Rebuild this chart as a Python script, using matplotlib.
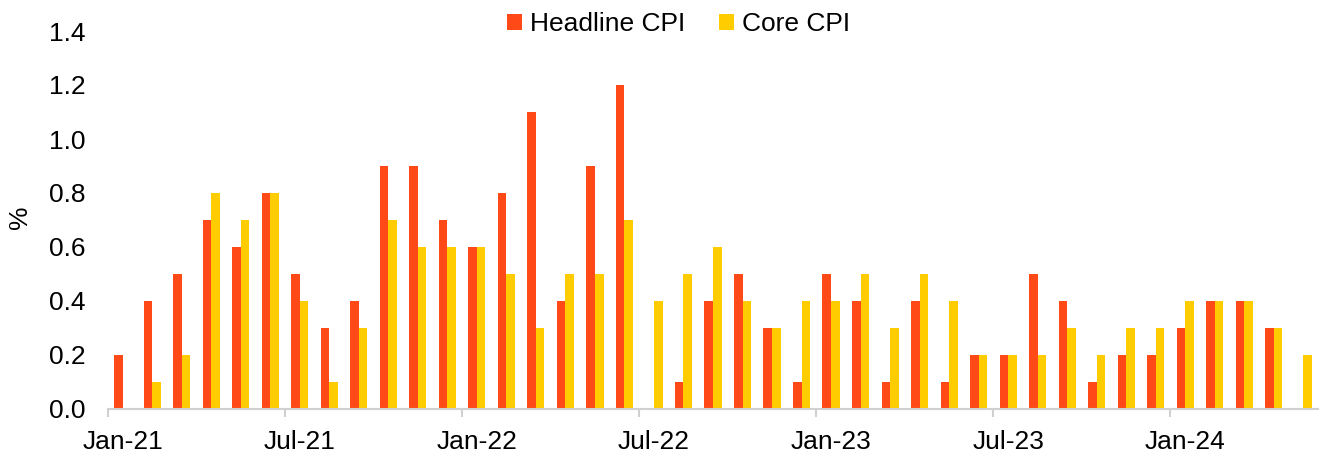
import matplotlib
matplotlib.use("Agg")
import matplotlib.pyplot as plt
import numpy as np

plt.rcParams['font.family'] = ['Liberation Sans', 'DejaVu Sans']

# monthly data Jan-21 .. May-24
months = ["Jan-21", "Feb-21", "Mar-21", "Apr-21", "May-21", "Jun-21",
          "Jul-21", "Aug-21", "Sep-21", "Oct-21", "Nov-21", "Dec-21",
          "Jan-22", "Feb-22", "Mar-22", "Apr-22", "May-22", "Jun-22",
          "Jul-22", "Aug-22", "Sep-22", "Oct-22", "Nov-22", "Dec-22",
          "Jan-23", "Feb-23", "Mar-23", "Apr-23", "May-23", "Jun-23",
          "Jul-23", "Aug-23", "Sep-23", "Oct-23", "Nov-23", "Dec-23",
          "Jan-24", "Feb-24", "Mar-24", "Apr-24", "May-24"]
headline = [0.2, 0.4, 0.5, 0.7, 0.6, 0.8, 0.5, 0.3, 0.4, 0.9, 0.9, 0.7,
            0.6, 0.8, 1.1, 0.4, 0.9, 1.2, 0.0, 0.1, 0.4, 0.5, 0.3, 0.1,
            0.5, 0.4, 0.1, 0.4, 0.1, 0.2, 0.2, 0.5, 0.4, 0.1, 0.2, 0.2,
            0.3, 0.4, 0.4, 0.3, 0.0]
core = [0.0, 0.1, 0.2, 0.8, 0.7, 0.8, 0.4, 0.1, 0.3, 0.7, 0.6, 0.6,
        0.6, 0.5, 0.3, 0.5, 0.5, 0.7, 0.4, 0.5, 0.6, 0.4, 0.3, 0.4,
        0.4, 0.5, 0.3, 0.5, 0.4, 0.2, 0.2, 0.2, 0.3, 0.2, 0.3, 0.3,
        0.4, 0.4, 0.4, 0.3, 0.2]

col_head = "#FF4A17"
col_core = "#FFCC00"
fs = 19

fig = plt.figure(figsize=(13.25, 4.54), dpi=100)
ax = fig.add_axes([108/1325, 45/454, 1210/1325, 378/454])

x = np.arange(len(months))
w = 0.29
ax.bar(x - w/2, headline, w, color=col_head, label="Headline CPI")
ax.bar(x + w/2, core, w, color=col_core, label="Core CPI")

ax.set_xlim(-0.5, len(months) - 0.5)
ax.set_ylim(0, 1.4)
ax.set_yticks(np.arange(0, 1.41, 0.2))
ax.set_yticklabels([f"{v:.1f}" for v in np.arange(0, 1.41, 0.2)])

# labels every 6 months at the category centre, tick marks on the boundaries
lab_pos = x[::6]
ax.set_xticks(lab_pos)
ax.set_xticklabels([months[i] for i in lab_pos])
ax.set_xticks(lab_pos - 0.5, minor=True)
ax.tick_params(axis='x', which='major', length=0, pad=15, labelsize=fs)
ax.tick_params(axis='x', which='minor', length=6, color="#D0D0D0", width=1.5)
ax.tick_params(axis='y', length=0, pad=16, labelsize=fs)

for s in ["top", "right", "left"]:
    ax.spines[s].set_visible(False)
ax.spines["bottom"].set_color("#D0D0D0")
ax.spines["bottom"].set_linewidth(1.5)

fig.text(20/1325, 1 - 217/454, "%", rotation=90, fontsize=fs,
         ha="center", va="center")

fig.legend(loc="center", bbox_to_anchor=(0.512, 0.947), ncol=2, frameon=False,
           fontsize=fs, handlelength=0.55, handleheight=0.55,
           handletextpad=0.3, columnspacing=1.3)

fig.savefig("out.png", dpi=100)
